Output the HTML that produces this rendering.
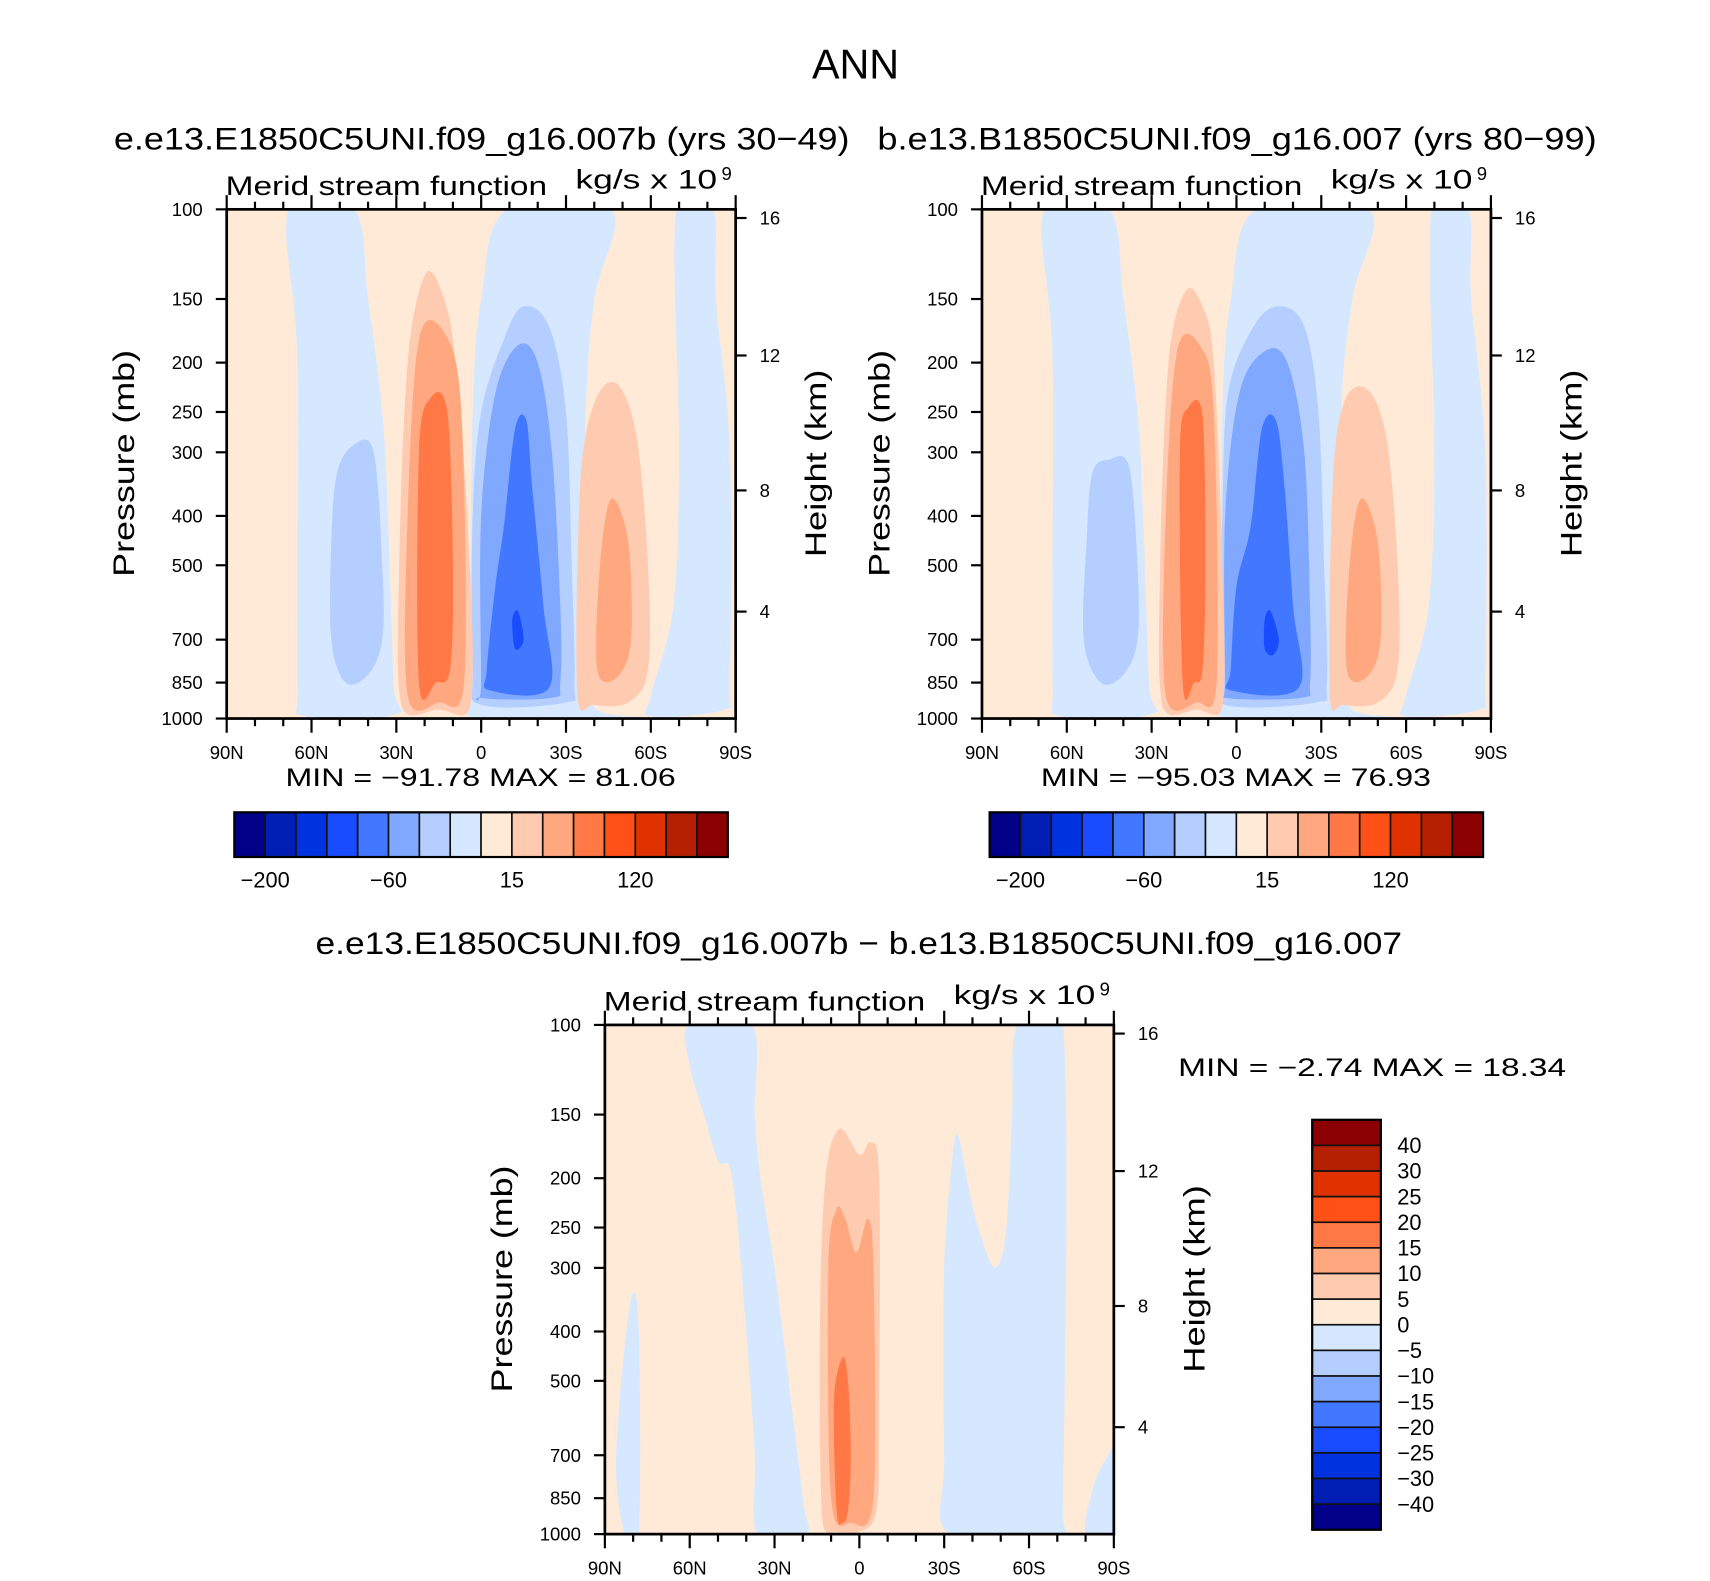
<!DOCTYPE html>
<html><head><meta charset="utf-8"><style>
html,body{margin:0;padding:0;background:#fff}
svg{display:block}
text{font-family:"Liberation Sans",sans-serif;fill:#000}
</style></head><body>
<svg id="fig" width="1710" height="1581" viewBox="0 0 1569 1450" preserveAspectRatio="none" xmlns="http://www.w3.org/2000/svg">
<text x="785" y="72" font-size="38" text-anchor="middle" textLength="80" lengthAdjust="spacingAndGlyphs">ANN</text>
<text x="442" y="137" font-size="29" text-anchor="middle" textLength="675" lengthAdjust="spacingAndGlyphs">e.e13.E1850C5UNI.f09_g16.007b (yrs 30−49)</text>
<text x="1135" y="137" font-size="29" text-anchor="middle" textLength="660" lengthAdjust="spacingAndGlyphs">b.e13.B1850C5UNI.f09_g16.007 (yrs 80−99)</text>
<text x="788" y="875" font-size="29" text-anchor="middle" textLength="997" lengthAdjust="spacingAndGlyphs">e.e13.E1850C5UNI.f09_g16.007b − b.e13.B1850C5UNI.f09_g16.007</text>
<g id="p1"></g>
<g id="p2"></g>
<g id="p3"></g>
</svg>
<script>
// ---- data ----
const colors=["#000088","#001eb4","#0032e0","#1a4cff","#4178ff","#80a8ff","#b4ceff","#d6e8ff","#ffead8","#ffcbb0","#ffa880","#ff7845","#ff5018","#e03200","#b42000","#8b0000"];
const pTicks=[100,150,200,250,300,400,500,700,850,1000];
const kmTicks=[16,12,8,4];
const kmTickFrac=[0.017,0.287,0.552,0.790];
const latTicks=[90,60,30,0,-30,-60,-90];
const latLabels=["90N","60N","30N","0","30S","60S","90S"];
const cbLabelsTop=["-200","-60","15","120"];
const cbLabelIdx=[1,5,9,13];
const cbLabelsDiff=["40","30","25","20","15","10","5","0","−5","−10","−15","−20","−25","−30","−40"];
// regions: [colorIndex, [[lat,p],...]]
const regions1=[
 [7,[[68,100],[45,100],[40,150],[35,250],[33,400],[31,850],[30,980],[62,990],[65,850],[65,200]]],
 [7,[[-9,100],[-46,100],[-40,150],[-37,250],[-36,700],[-40,950],[-55,990],[4,990],[4,700],[3,250],[0,150]]],
 [7,[[-69,100],[-82,100],[-83,150],[-88,300],[-88,850],[-86,960],[-60,990],[-60,900],[-68,600],[-70,300]]],
 [6,[[51,330],[45,290],[38,300],[35,500],[35,700],[40,820],[48,850],[53,700],[53,450]]],
 [6,[[3,800],[3,400],[0,250],[-8,180],[-15,155],[-24,170],[-30,250],[-32,500],[-33,850],[-30,930],[0,940]]],
 [5,[[0,850],[0,400],[-5,230],[-13,185],[-20,200],[-25,300],[-28,600],[-28,850],[-25,910],[0,910]]],
 [4,[[-2,800],[-5,550],[-8,420],[-12,270],[-16,260],[-18,350],[-22,600],[-24,870],[-3,880]]],
 [3,[[-11,640],[-13,615],[-15,700],[-12,730]]],
 [9,[[28,950],[29,500],[26,200],[20,135],[14,145],[9,200],[4,500],[4,950],[15,960]]],
 [10,[[26,900],[26,400],[22,180],[13,175],[7,250],[6,850],[15,930]]],
 [11,[[22,850],[22,300],[18,235],[12,250],[10,500],[11,800],[16,850]]],
 [9,[[-34,900],[-35,350],[-40,240],[-48,220],[-55,280],[-59,500],[-59,800],[-52,930],[-40,940]]],
 [10,[[-41,800],[-42,500],[-46,370],[-52,450],[-53,700],[-48,830]]]
];
const regions2=[
 [7,[[68,100],[45,100],[40,150],[35,250],[33,400],[31,850],[30,980],[62,990],[65,850],[65,200]]],
 [7,[[-7,100],[-47,100],[-41,150],[-37,250],[-36,700],[-40,950],[-55,990],[6,990],[6,700],[5,250],[2,150]]],
 [7,[[-69,100],[-82,100],[-83,150],[-88,300],[-88,850],[-86,960],[-60,990],[-60,900],[-68,600],[-70,300]]],
 [6,[[51,330],[45,310],[38,320],[35,500],[35,700],[40,820],[48,850],[54,700],[53,450]]],
 [6,[[6,800],[5,400],[3,230],[-6,170],[-15,155],[-24,170],[-29,250],[-31,500],[-32,850],[-28,930],[4,940]]],
 [5,[[4,850],[4,400],[-1,230],[-10,190],[-18,200],[-24,300],[-26,600],[-26,850],[-23,910],[4,910]]],
 [4,[[2,800],[0,550],[-5,420],[-9,270],[-14,260],[-17,350],[-20,600],[-22,870],[2,880]]],
 [3,[[-10,640],[-12,615],[-15,700],[-13,750],[-10,730]]],
 [9,[[26,950],[27,500],[24,200],[18,145],[12,155],[8,200],[5,500],[5,950],[14,960]]],
 [10,[[25,900],[25,400],[21,190],[13,185],[8,250],[7,850],[14,930]]],
 [11,[[19,850],[20,300],[17,245],[12,255],[11,500],[12,800],[15,850]]],
 [9,[[-33,900],[-34,350],[-38,240],[-46,225],[-53,280],[-57,500],[-57,800],[-50,930],[-38,940]]],
 [10,[[-39,800],[-40,500],[-44,370],[-50,450],[-51,700],[-46,830]]]
];
const regions3=[
 [7,[[60,100],[38,100],[37,150],[35,200],[30,300],[25,500],[20,850],[19,1000],[36,1000],[37,700],[40,400],[45,200],[50,185],[55,150],[60,120]]],
 [7,[[-56,100],[-72,100],[-72,900],[-70,1000],[-32,1000],[-30,700],[-30,300],[-33,180],[-35,165],[-38,200],[-42,250],[-48,300],[-52,250],[-54,150]]],
 [7,[[83,1000],[86,700],[81,350],[78,400],[78,1000]]],
 [7,[[-80,1000],[-83,800],[-88,700],[-90,700],[-90,1000]]],
 [9,[[13,950],[14,400],[12,200],[7,160],[0,180],[-4,170],[-7,200],[-7,600],[-6,900],[0,990],[8,990]]],
 [10,[[10,850],[11,300],[8,230],[5,240],[1,280],[-3,240],[-5,300],[-5,850],[3,950]]],
 [11,[[8,900],[9,550],[6,450],[4,500],[3,700],[4,900],[6,950]]]
];
const panels=[
 {id:"p1",x:208,y:192,regions:regions1,bg:8,minmax:"MIN =  −91.78   MAX =   81.06"},
 {id:"p2",x:901,y:192,regions:regions2,bg:8,minmax:"MIN =  −95.03   MAX =   76.93"},
 {id:"p3",x:555,y:940,regions:regions3,bg:8,minmax:"MIN =   −2.74   MAX =   18.34"}
];
const W=467,H=467;
const NS="http://www.w3.org/2000/svg";
function mk(parent,tag,attrs,txt){const e=document.createElementNS(NS,tag);for(const k in attrs)e.setAttribute(k,attrs[k]);if(txt!==undefined)e.textContent=txt;parent.appendChild(e);return e;}
function smooth(pts,x0,x1,y0,y1){
 const n=pts.length;let d="M"+pts[0][0].toFixed(1)+","+pts[0][1].toFixed(1);
 const cl=(v,a,b)=>Math.max(a,Math.min(b,v));
 for(let i=0;i<n;i++){
  const p0=pts[(i-1+n)%n],p1=pts[i],p2=pts[(i+1)%n],p3=pts[(i+2)%n];
  const c1x=cl(p1[0]+(p2[0]-p0[0])/6,x0,x1),c1y=cl(p1[1]+(p2[1]-p0[1])/6,y0,y1);
  const c2x=cl(p2[0]-(p3[0]-p1[0])/6,x0,x1),c2y=cl(p2[1]-(p3[1]-p1[1])/6,y0,y1);
  d+="C"+c1x.toFixed(1)+","+c1y.toFixed(1)+" "+c2x.toFixed(1)+","+c2y.toFixed(1)+" "+p2[0].toFixed(1)+","+p2[1].toFixed(1);
 }
 return d+"Z";
}
panels.forEach((P,pi)=>{
 const g=document.getElementById(P.id);
 const xs=lat=>P.x+(90-lat)/180*W;
 const ys=p=>P.y+Math.log10(p/100)*H;
 const cid="clip"+pi;
 const cp=mk(mk(g,"defs",{}),"clipPath",{id:cid});
 mk(cp,"rect",{x:P.x,y:P.y,width:W,height:H});
 const bg=mk(g,"rect",{x:P.x,y:P.y,width:W,height:H,fill:colors[P.bg]});
 
 
 const cg=mk(g,"g",{"clip-path":`url(#${cid})`});
 P.regions.forEach(r=>{
  const pts=r[1].map(q=>[xs(q[0]),ys(q[1])]);
  const pa=mk(cg,"path",{d:smooth(pts,P.x-5,P.x+W+5,P.y-5,P.y+H+5),fill:colors[r[0]]});
  
  
 });
 const fr=mk(g,"rect",{x:P.x,y:P.y,width:W,height:H,fill:"none",stroke:"#000","stroke-width":2.5});
 
 
 pTicks.forEach(p=>{
  const y=ys(p);
  mk(g,"line",{x1:P.x-10,y1:y,x2:P.x,y2:y,stroke:"#000","stroke-width":2});
  const t=mk(g,"text",{x:P.x-22,y:y+6,"font-size":17,"text-anchor":"end"},p);
  
  
 });
 kmTicks.forEach((k,i)=>{
  const y=P.y+kmTickFrac[i]*H;
  mk(g,"line",{x1:P.x+W,y1:y,x2:P.x+W+10,y2:y,stroke:"#000","stroke-width":2});
  const t=mk(g,"text",{x:P.x+W+22,y:y+6,"font-size":17},k);
  
  
 });
 for(let lat=90;lat>=-90;lat-=10){
  const x=xs(lat),maj=lat%30===0,len=maj?13:7;
  mk(g,"line",{x1:x,y1:P.y+H,x2:x,y2:P.y+H+len,stroke:"#000","stroke-width":2});
  mk(g,"line",{x1:x,y1:P.y,x2:x,y2:P.y-len,stroke:"#000","stroke-width":2});
 }
 latTicks.forEach((lat,i)=>{
  const t=mk(g,"text",{x:xs(lat),y:P.y+H+37,"font-size":17,"text-anchor":"middle"},latLabels[i]);
  
  
 });
 const l1=mk(g,"text",{x:P.x-1,y:P.y-13,"font-size":25,textLength:295,lengthAdjust:"spacingAndGlyphs"},"Merid stream function");
 
 
 const l2=mk(g,"text",{x:P.x+320,y:P.y-19,"font-size":25,textLength:130,lengthAdjust:"spacingAndGlyphs"},"kg/s x 10");
 
 
 mk(g,"text",{x:P.x+454,y:P.y-27,"font-size":17},"9");
 const ya=mk(g,"text",{transform:`translate(${P.x-85},${P.y+233}) rotate(-90)`,"font-size":27,"text-anchor":"middle",textLength:208,lengthAdjust:"spacingAndGlyphs"},"Pressure (mb)");
 
 
 const yb=mk(g,"text",{transform:`translate(${P.x+W+83},${P.y+233}) rotate(-90)`,"font-size":27,"text-anchor":"middle",textLength:172,lengthAdjust:"spacingAndGlyphs"},"Height (km)");
 
 
 if(pi<2){
  const mm=mk(g,"text",{x:P.x+54,y:P.y+529,"font-size":23,textLength:358,lengthAdjust:"spacingAndGlyphs","xml:space":"preserve"},P.minmax);
  
  
  const cx=P.x+7,cy=745,bw=28.3,bh=41;
  colors.forEach((c,i)=>{
   const r=mk(g,"rect",{x:cx+i*bw,y:cy,width:bw,height:bh,fill:c,stroke:"#111","stroke-width":1.5});
   
   
  });
  mk(g,"rect",{x:cx,y:cy,width:bw*16,height:bh,fill:"none",stroke:"#000","stroke-width":2});
  cbLabelsTop.forEach((s,i)=>{
   const t=mk(g,"text",{x:cx+cbLabelIdx[i]*bw,y:814,"font-size":20,"text-anchor":"middle"},s.replace("-","−"));
   
   
  });
 } else {
  const mm=mk(g,"text",{x:1081,y:987,"font-size":23,textLength:356,lengthAdjust:"spacingAndGlyphs"},P.minmax);
  
  
  const cx=1204,cy=1027,bw=63,bh=23.5;
  colors.slice().reverse().forEach((c,i)=>{
   const r=mk(g,"rect",{x:cx,y:cy+i*bh,width:bw,height:bh,fill:c,stroke:"#111","stroke-width":1.5});
   
   
  });
  mk(g,"rect",{x:cx,y:cy,width:bw,height:bh*16,fill:"none",stroke:"#000","stroke-width":2});
  cbLabelsDiff.forEach((s,i)=>{
   const t=mk(g,"text",{x:1282,y:cy+(i+1)*bh+7,"font-size":20},s);
   
   
  });
 }
});
</script>
</body></html>
